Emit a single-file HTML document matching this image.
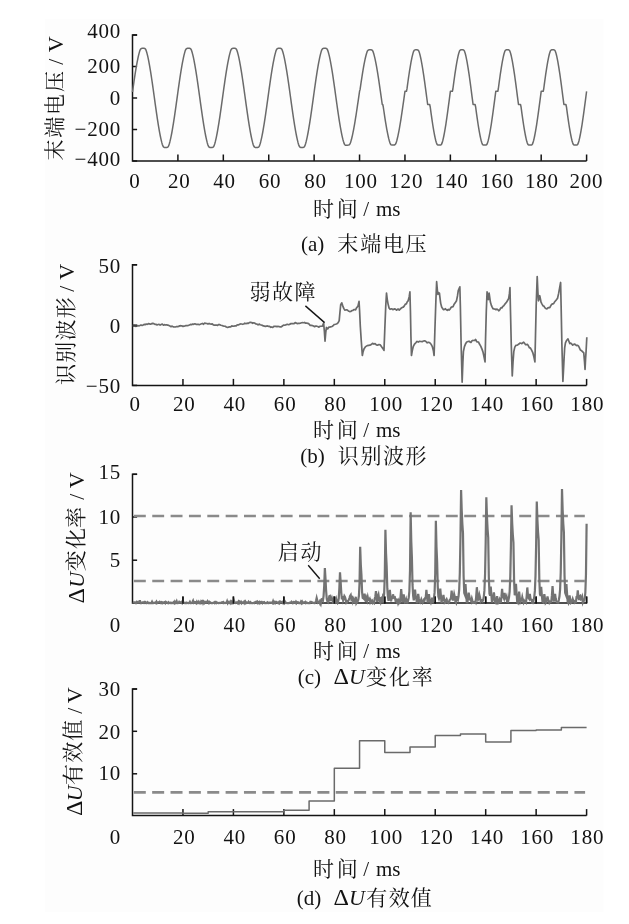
<!DOCTYPE html>
<html lang="zh">
<head>
<meta charset="utf-8">
<title>figure</title>
<style>
html,body{margin:0;padding:0;background:#fff;}
body{width:629px;height:924px;overflow:hidden;position:relative;}
svg{position:absolute;left:0;top:0;display:block;will-change:transform;transform:translateZ(0);}
svg text{font-family:"Liberation Serif", "Noto Serif CJK SC", serif;fill:#121212;}
</style>
</head>
<body>
<svg width="629" height="924" viewBox="0 0 629 924">
<rect x="45" y="19" width="558.5" height="893" fill="#fdfdfd"/>
<path d="M137.1 35 H132.5 V161 H586.6" fill="none" stroke="#141414" stroke-width="1.5" stroke-linejoin="miter"/>
<line x1="132.5" y1="35" x2="137.1" y2="35" stroke="#141414" stroke-width="1.5" />
<line x1="132.5" y1="66.5" x2="137.1" y2="66.5" stroke="#141414" stroke-width="1.5" />
<line x1="132.5" y1="98" x2="137.1" y2="98" stroke="#141414" stroke-width="1.5" />
<line x1="132.5" y1="129.5" x2="137.1" y2="129.5" stroke="#141414" stroke-width="1.5" />
<line x1="132.5" y1="161" x2="137.1" y2="161" stroke="#141414" stroke-width="1.5" />
<line x1="177.91" y1="161" x2="177.91" y2="154.5" stroke="#141414" stroke-width="1.5" />
<line x1="223.32" y1="161" x2="223.32" y2="154.5" stroke="#141414" stroke-width="1.5" />
<line x1="268.73" y1="161" x2="268.73" y2="154.5" stroke="#141414" stroke-width="1.5" />
<line x1="314.14" y1="161" x2="314.14" y2="154.5" stroke="#141414" stroke-width="1.5" />
<line x1="359.55" y1="161" x2="359.55" y2="154.5" stroke="#141414" stroke-width="1.5" />
<line x1="404.96" y1="161" x2="404.96" y2="154.5" stroke="#141414" stroke-width="1.5" />
<line x1="450.37" y1="161" x2="450.37" y2="154.5" stroke="#141414" stroke-width="1.5" />
<line x1="495.78" y1="161" x2="495.78" y2="154.5" stroke="#141414" stroke-width="1.5" />
<line x1="541.19" y1="161" x2="541.19" y2="154.5" stroke="#141414" stroke-width="1.5" />
<line x1="586.6" y1="161" x2="586.6" y2="154.5" stroke="#141414" stroke-width="1.5" />
<path d="M132.5 92.01 L133 88.4 L133.51 84.85 L134.01 81.35 L134.52 77.94 L135.02 74.62 L135.53 71.42 L136.03 68.34 L136.54 65.41 L137.04 62.64 L137.55 60.04 L138.05 57.62 L138.55 55.41 L139.06 53.39 L139.56 51.6 L140.07 50.1 L140.57 49.16 L141.08 48.65 L141.58 48.41 L142.09 48.32 L142.59 48.3 L143.1 48.3 L143.6 48.3 L144.1 48.33 L144.61 48.45 L145.11 48.74 L145.62 49.34 L146.12 50.41 L146.63 52.01 L147.13 53.86 L147.64 55.92 L148.14 58.19 L148.65 60.65 L149.15 63.29 L149.65 66.1 L150.16 69.07 L150.66 72.17 L151.17 75.41 L151.67 78.75 L152.18 82.18 L152.68 85.69 L153.19 89.26 L153.69 92.88 L154.2 96.52 L154.7 100.16 L155.21 103.79 L155.71 107.4 L156.21 110.95 L156.72 114.45 L157.22 117.86 L157.73 121.18 L158.23 124.38 L158.74 127.46 L159.24 130.39 L159.75 133.16 L160.25 135.76 L160.76 138.18 L161.26 140.39 L161.76 142.41 L162.27 144.2 L162.77 145.7 L163.28 146.64 L163.78 147.15 L164.29 147.39 L164.79 147.48 L165.3 147.5 L165.8 147.5 L166.31 147.5 L166.81 147.47 L167.31 147.35 L167.82 147.06 L168.32 146.46 L168.83 145.39 L169.33 143.79 L169.84 141.94 L170.34 139.88 L170.85 137.61 L171.35 135.15 L171.86 132.51 L172.36 129.7 L172.86 126.73 L173.37 123.63 L173.87 120.39 L174.38 117.05 L174.88 113.62 L175.39 110.11 L175.89 106.54 L176.4 102.92 L176.9 99.28 L177.41 95.64 L177.91 92.01 L178.41 88.4 L178.92 84.85 L179.42 81.35 L179.93 77.94 L180.43 74.62 L180.94 71.42 L181.44 68.34 L181.95 65.41 L182.45 62.64 L182.96 60.04 L183.46 57.62 L183.96 55.41 L184.47 53.39 L184.97 51.6 L185.48 50.1 L185.98 49.16 L186.49 48.65 L186.99 48.41 L187.5 48.32 L188 48.3 L188.51 48.3 L189.01 48.3 L189.51 48.33 L190.02 48.45 L190.52 48.74 L191.03 49.34 L191.53 50.41 L192.04 52.01 L192.54 53.86 L193.05 55.92 L193.55 58.19 L194.06 60.65 L194.56 63.29 L195.06 66.1 L195.57 69.07 L196.07 72.17 L196.58 75.41 L197.08 78.75 L197.59 82.18 L198.09 85.69 L198.6 89.26 L199.1 92.88 L199.61 96.52 L200.11 100.16 L200.62 103.79 L201.12 107.4 L201.62 110.95 L202.13 114.45 L202.63 117.86 L203.14 121.18 L203.64 124.38 L204.15 127.46 L204.65 130.39 L205.16 133.16 L205.66 135.76 L206.17 138.18 L206.67 140.39 L207.17 142.41 L207.68 144.2 L208.18 145.7 L208.69 146.64 L209.19 147.15 L209.7 147.39 L210.2 147.48 L210.71 147.5 L211.21 147.5 L211.72 147.5 L212.22 147.47 L212.72 147.35 L213.23 147.06 L213.73 146.46 L214.24 145.39 L214.74 143.79 L215.25 141.94 L215.75 139.88 L216.26 137.61 L216.76 135.15 L217.27 132.51 L217.77 129.7 L218.27 126.73 L218.78 123.63 L219.28 120.39 L219.79 117.05 L220.29 113.62 L220.8 110.11 L221.3 106.54 L221.81 102.92 L222.31 99.28 L222.82 95.64 L223.32 92.01 L223.82 88.4 L224.33 84.85 L224.83 81.35 L225.34 77.94 L225.84 74.62 L226.35 71.42 L226.85 68.34 L227.36 65.41 L227.86 62.64 L228.37 60.04 L228.87 57.62 L229.37 55.41 L229.88 53.39 L230.38 51.6 L230.89 50.1 L231.39 49.16 L231.9 48.65 L232.4 48.41 L232.91 48.32 L233.41 48.3 L233.92 48.3 L234.42 48.3 L234.92 48.33 L235.43 48.45 L235.93 48.74 L236.44 49.34 L236.94 50.41 L237.45 52.01 L237.95 53.86 L238.46 55.92 L238.96 58.19 L239.47 60.65 L239.97 63.29 L240.47 66.1 L240.98 69.07 L241.48 72.17 L241.99 75.41 L242.49 78.75 L243 82.18 L243.5 85.69 L244.01 89.26 L244.51 92.88 L245.02 96.52 L245.52 100.16 L246.03 103.79 L246.53 107.4 L247.03 110.95 L247.54 114.45 L248.04 117.86 L248.55 121.18 L249.05 124.38 L249.56 127.46 L250.06 130.39 L250.57 133.16 L251.07 135.76 L251.58 138.18 L252.08 140.39 L252.58 142.41 L253.09 144.2 L253.59 145.7 L254.1 146.64 L254.6 147.15 L255.11 147.39 L255.61 147.48 L256.12 147.5 L256.62 147.5 L257.13 147.5 L257.63 147.47 L258.13 147.35 L258.64 147.06 L259.14 146.46 L259.65 145.39 L260.15 143.79 L260.66 141.94 L261.16 139.88 L261.67 137.61 L262.17 135.15 L262.68 132.51 L263.18 129.7 L263.68 126.73 L264.19 123.63 L264.69 120.39 L265.2 117.05 L265.7 113.62 L266.21 110.11 L266.71 106.54 L267.22 102.92 L267.72 99.28 L268.23 95.64 L268.73 92.01 L269.23 88.4 L269.74 84.85 L270.24 81.35 L270.75 77.94 L271.25 74.62 L271.76 71.42 L272.26 68.34 L272.77 65.41 L273.27 62.64 L273.78 60.04 L274.28 57.62 L274.78 55.41 L275.29 53.39 L275.79 51.6 L276.3 50.1 L276.8 49.16 L277.31 48.65 L277.81 48.41 L278.32 48.32 L278.82 48.3 L279.33 48.3 L279.83 48.3 L280.33 48.33 L280.84 48.45 L281.34 48.74 L281.85 49.34 L282.35 50.41 L282.86 52.01 L283.36 53.86 L283.87 55.92 L284.37 58.19 L284.88 60.65 L285.38 63.29 L285.88 66.1 L286.39 69.07 L286.89 72.17 L287.4 75.41 L287.9 78.75 L288.41 82.18 L288.91 85.69 L289.42 89.26 L289.92 92.88 L290.43 96.52 L290.93 100.16 L291.44 103.79 L291.94 107.4 L292.44 110.95 L292.95 114.45 L293.45 117.86 L293.96 121.18 L294.46 124.38 L294.97 127.46 L295.47 130.39 L295.98 133.16 L296.48 135.76 L296.99 138.18 L297.49 140.39 L297.99 142.41 L298.5 144.2 L299 145.7 L299.51 146.64 L300.01 147.15 L300.52 147.39 L301.02 147.48 L301.53 147.5 L302.03 147.5 L302.54 147.5 L303.04 147.47 L303.54 147.35 L304.05 147.06 L304.55 146.46 L305.06 145.39 L305.56 143.79 L306.07 141.94 L306.57 139.88 L307.08 137.61 L307.58 135.15 L308.09 132.51 L308.59 129.7 L309.09 126.73 L309.6 123.63 L310.1 120.39 L310.61 117.05 L311.11 113.62 L311.62 110.11 L312.12 106.54 L312.63 102.92 L313.13 99.28 L313.64 95.64 L314.14 92.01 L314.64 88.4 L315.15 84.85 L315.65 81.35 L316.16 77.94 L316.66 74.62 L317.17 71.42 L317.67 68.34 L318.18 65.41 L318.68 62.64 L319.19 60.04 L319.69 57.62 L320.19 55.41 L320.7 53.39 L321.2 51.6 L321.71 50.1 L322.21 49.16 L322.72 48.65 L323.22 48.41 L323.73 48.32 L324.23 48.3 L324.74 48.3 L325.24 48.3 L325.74 48.33 L326.25 48.45 L326.75 48.74 L327.26 49.34 L327.76 50.41 L328.27 52.01 L328.77 53.86 L329.28 55.92 L329.78 58.19 L330.29 60.65 L330.79 63.29 L331.29 66.1 L331.8 69.07 L332.3 72.17 L332.81 75.46 L333.31 78.84 L333.82 82.32 L334.32 85.87 L334.83 89.47 L335.33 93.1 L335.84 96.75 L336.34 100.39 L336.85 104 L337.35 107.57 L337.85 111.07 L338.36 114.51 L338.86 117.84 L339.37 121.07 L339.87 124.18 L340.38 127.14 L340.88 129.95 L341.39 132.59 L341.89 135.06 L342.4 137.33 L342.9 139.39 L343.4 141.25 L343.91 142.89 L344.41 144.16 L344.92 144.9 L345.42 145.26 L345.93 145.37 L346.43 145.36 L346.94 145.29 L347.44 145.21 L347.95 145.13 L348.45 145.05 L348.95 144.91 L349.46 144.56 L349.96 143.89 L350.47 142.72 L350.97 141.12 L351.48 139.31 L351.98 137.29 L352.49 135.09 L352.99 132.7 L353.5 130.14 L354 127.43 L354.5 124.57 L355.01 121.59 L355.51 118.48 L356.02 115.28 L356.52 112 L357.03 108.64 L357.53 105.23 L358.04 101.79 L358.54 98.33 L359.05 94.8 L359.55 91.28 L360.05 89.65 L360.56 86.14 L361.06 82.69 L361.57 79.32 L362.07 76.04 L362.58 72.86 L363.08 69.82 L363.59 66.91 L364.09 64.16 L364.6 61.58 L365.1 59.18 L365.6 56.97 L366.11 54.96 L366.61 53.18 L367.12 51.66 L367.62 50.69 L368.13 50.16 L368.63 49.91 L369.14 49.82 L369.64 49.8 L370.15 49.8 L370.65 49.8 L371.15 49.83 L371.66 49.94 L372.16 50.24 L372.67 50.84 L373.17 51.92 L373.68 53.51 L374.18 55.34 L374.69 57.38 L375.19 59.63 L375.7 62.07 L376.2 64.68 L376.7 67.47 L377.21 70.4 L377.71 73.47 L378.22 76.67 L378.72 79.97 L379.23 83.36 L379.73 86.82 L380.24 90.34 L380.74 93.9 L381.25 97.47 L381.75 100.99 L382.25 104.48 L382.76 104.48 L383.26 106.77 L383.77 110.26 L384.27 113.69 L384.78 117.03 L385.28 120.28 L385.79 123.41 L386.29 126.41 L386.8 129.26 L387.3 131.94 L387.81 134.46 L388.31 136.78 L388.81 138.9 L389.32 140.81 L389.82 142.5 L390.33 143.78 L390.83 144.52 L391.34 144.89 L391.84 145.05 L392.35 145.09 L392.85 145.1 L393.36 145.1 L393.86 145.09 L394.36 145.02 L394.87 144.81 L395.37 144.33 L395.88 143.44 L396.38 141.99 L396.89 140.23 L397.39 138.25 L397.9 136.07 L398.4 133.68 L398.91 131.11 L399.41 128.37 L399.91 125.47 L400.42 122.43 L400.92 119.26 L401.43 115.98 L401.93 112.61 L402.44 109.16 L402.94 105.66 L403.45 102.11 L403.95 98.55 L404.46 94.91 L404.96 91.28 L405.46 91.28 L405.97 91.28 L406.47 91.28 L406.98 88.92 L407.48 85.19 L407.99 81.52 L408.49 77.95 L409 74.5 L409.5 71.18 L410.01 68.01 L410.51 65.01 L411.01 62.2 L411.52 59.59 L412.02 57.2 L412.53 55.05 L413.03 53.13 L413.54 51.55 L414.04 50.58 L414.55 50.08 L415.05 49.87 L415.56 49.81 L416.06 49.8 L416.56 49.8 L417.07 49.81 L417.57 49.89 L418.08 50.13 L418.58 50.67 L419.09 51.71 L419.59 53.35 L420.1 55.3 L420.6 57.48 L421.11 59.9 L421.61 62.53 L422.11 65.37 L422.62 68.39 L423.12 71.57 L423.63 74.91 L424.13 78.38 L424.64 81.96 L425.14 85.64 L425.65 89.38 L426.15 93.17 L426.66 96.99 L427.16 100.75 L427.67 104.48 L428.17 104.48 L428.67 104.48 L429.18 104.48 L429.68 104.48 L430.19 106.72 L430.69 110.47 L431.2 114.15 L431.7 117.72 L432.21 121.19 L432.71 124.51 L433.22 127.67 L433.72 130.65 L434.22 133.44 L434.73 136.02 L435.23 138.37 L435.74 140.47 L436.24 142.32 L436.75 143.74 L437.25 144.54 L437.76 144.92 L438.26 145.06 L438.77 145.1 L439.27 145.1 L439.77 145.1 L440.28 145.06 L440.78 144.92 L441.29 144.54 L441.79 143.74 L442.3 142.33 L442.8 140.47 L443.31 138.37 L443.81 136.02 L444.32 133.44 L444.82 130.66 L445.32 127.67 L445.83 124.51 L446.33 121.19 L446.84 117.73 L447.34 114.15 L447.85 110.47 L448.35 106.72 L448.86 102.92 L449.36 99.08 L449.87 95.19 L450.37 91.28 L450.87 91.28 L451.38 91.28 L451.88 91.28 L452.39 91.28 L452.89 89 L453.4 85.16 L453.9 81.41 L454.41 77.76 L454.91 74.22 L455.42 70.83 L455.92 67.6 L456.42 64.55 L456.93 61.7 L457.43 59.07 L457.94 56.68 L458.44 54.52 L458.95 52.63 L459.45 51.19 L459.96 50.37 L460.46 49.98 L460.97 49.84 L461.47 49.8 L461.97 49.8 L462.48 49.8 L462.98 49.84 L463.49 49.98 L463.99 50.37 L464.5 51.19 L465 52.63 L465.51 54.52 L466.01 56.67 L466.52 59.07 L467.02 61.7 L467.52 64.55 L468.03 67.6 L468.53 70.83 L469.04 74.22 L469.54 77.75 L470.05 81.41 L470.55 85.16 L471.06 88.99 L471.56 92.88 L472.07 96.79 L472.57 100.66 L473.08 104.48 L473.58 104.48 L474.08 104.48 L474.59 104.48 L475.09 104.48 L475.6 106.72 L476.1 110.47 L476.61 114.15 L477.11 117.72 L477.62 121.19 L478.12 124.51 L478.63 127.67 L479.13 130.65 L479.63 133.44 L480.14 136.02 L480.64 138.37 L481.15 140.47 L481.65 142.32 L482.16 143.74 L482.66 144.54 L483.17 144.92 L483.67 145.06 L484.18 145.1 L484.68 145.1 L485.18 145.1 L485.69 145.06 L486.19 144.92 L486.7 144.54 L487.2 143.74 L487.71 142.33 L488.21 140.47 L488.72 138.37 L489.22 136.02 L489.73 133.44 L490.23 130.66 L490.73 127.67 L491.24 124.51 L491.74 121.19 L492.25 117.73 L492.75 114.15 L493.26 110.47 L493.76 106.72 L494.27 102.92 L494.77 99.08 L495.28 95.19 L495.78 91.28 L496.28 91.28 L496.79 91.28 L497.29 91.28 L497.8 91.28 L498.3 89 L498.81 85.16 L499.31 81.41 L499.82 77.76 L500.32 74.22 L500.83 70.83 L501.33 67.6 L501.83 64.55 L502.34 61.7 L502.84 59.07 L503.35 56.68 L503.85 54.52 L504.36 52.63 L504.86 51.19 L505.37 50.37 L505.87 49.98 L506.38 49.84 L506.88 49.8 L507.38 49.8 L507.89 49.8 L508.39 49.84 L508.9 49.98 L509.4 50.37 L509.91 51.19 L510.41 52.63 L510.92 54.52 L511.42 56.67 L511.93 59.07 L512.43 61.7 L512.93 64.55 L513.44 67.6 L513.94 70.83 L514.45 74.22 L514.95 77.75 L515.46 81.41 L515.96 85.16 L516.47 88.99 L516.97 92.88 L517.48 96.79 L517.98 100.66 L518.49 104.48 L518.99 104.48 L519.49 104.48 L520 104.48 L520.5 104.48 L521.01 106.72 L521.51 110.47 L522.02 114.15 L522.52 117.72 L523.03 121.19 L523.53 124.51 L524.04 127.67 L524.54 130.65 L525.04 133.44 L525.55 136.02 L526.05 138.37 L526.56 140.47 L527.06 142.32 L527.57 143.74 L528.07 144.54 L528.58 144.92 L529.08 145.06 L529.59 145.1 L530.09 145.1 L530.59 145.1 L531.1 145.06 L531.6 144.92 L532.11 144.54 L532.61 143.74 L533.12 142.33 L533.62 140.47 L534.13 138.37 L534.63 136.02 L535.14 133.44 L535.64 130.66 L536.14 127.67 L536.65 124.51 L537.15 121.19 L537.66 117.73 L538.16 114.15 L538.67 110.47 L539.17 106.72 L539.68 102.92 L540.18 99.08 L540.69 95.19 L541.19 91.28 L541.69 91.28 L542.2 91.28 L542.7 91.28 L543.21 91.28 L543.71 89 L544.22 85.16 L544.72 81.41 L545.23 77.76 L545.73 74.22 L546.24 70.83 L546.74 67.6 L547.24 64.55 L547.75 61.7 L548.25 59.07 L548.76 56.68 L549.26 54.52 L549.77 52.63 L550.27 51.19 L550.78 50.37 L551.28 49.98 L551.79 49.84 L552.29 49.8 L552.79 49.8 L553.3 49.8 L553.8 49.84 L554.31 49.98 L554.81 50.37 L555.32 51.19 L555.82 52.63 L556.33 54.52 L556.83 56.67 L557.34 59.07 L557.84 61.7 L558.34 64.55 L558.85 67.6 L559.35 70.83 L559.86 74.22 L560.36 77.75 L560.87 81.41 L561.37 85.16 L561.88 88.99 L562.38 92.88 L562.89 96.79 L563.39 100.66 L563.89 104.48 L564.4 104.48 L564.9 104.48 L565.41 104.48 L565.91 104.48 L566.42 106.72 L566.92 110.47 L567.43 114.15 L567.93 117.72 L568.44 121.19 L568.94 124.51 L569.45 127.67 L569.95 130.65 L570.45 133.44 L570.96 136.02 L571.46 138.37 L571.97 140.47 L572.47 142.32 L572.98 143.74 L573.48 144.54 L573.99 144.92 L574.49 145.06 L575 145.1 L575.5 145.1 L576 145.1 L576.51 145.06 L577.01 144.92 L577.52 144.54 L578.02 143.74 L578.53 142.33 L579.03 140.47 L579.54 138.37 L580.04 136.02 L580.55 133.44 L581.05 130.66 L581.55 127.67 L582.06 124.51 L582.56 121.19 L583.07 117.73 L583.57 114.15 L584.08 110.47 L584.58 106.72 L585.09 102.92 L585.59 99.08 L586.1 95.19 L586.6 91.28" fill="none" stroke="#6a6a6a" stroke-width="1.5" stroke-linejoin="round" stroke-linecap="butt" />
<path d="M137.1 264.8 H132.5 V385.4 H586.6" fill="none" stroke="#141414" stroke-width="1.5" stroke-linejoin="miter"/>
<line x1="132.5" y1="264.8" x2="137.1" y2="264.8" stroke="#141414" stroke-width="1.5" />
<line x1="132.5" y1="325.4" x2="137.1" y2="325.4" stroke="#141414" stroke-width="1.5" />
<line x1="132.5" y1="385.4" x2="137.1" y2="385.4" stroke="#141414" stroke-width="1.5" />
<line x1="182.96" y1="385.4" x2="182.96" y2="378.9" stroke="#141414" stroke-width="1.5" />
<line x1="233.41" y1="385.4" x2="233.41" y2="378.9" stroke="#141414" stroke-width="1.5" />
<line x1="283.87" y1="385.4" x2="283.87" y2="378.9" stroke="#141414" stroke-width="1.5" />
<line x1="334.32" y1="385.4" x2="334.32" y2="378.9" stroke="#141414" stroke-width="1.5" />
<line x1="384.78" y1="385.4" x2="384.78" y2="378.9" stroke="#141414" stroke-width="1.5" />
<line x1="435.23" y1="385.4" x2="435.23" y2="378.9" stroke="#141414" stroke-width="1.5" />
<line x1="485.69" y1="385.4" x2="485.69" y2="378.9" stroke="#141414" stroke-width="1.5" />
<line x1="536.14" y1="385.4" x2="536.14" y2="378.9" stroke="#141414" stroke-width="1.5" />
<line x1="586.6" y1="385.4" x2="586.6" y2="378.9" stroke="#141414" stroke-width="1.5" />
<path d="M132.9 325.73 L133.86 325.64 L134.82 325.54 L135.78 326.32 L136.74 326.26 L137.79 325.53 L138.84 325.96 L139.89 325.56 L140.94 324.98 L141.99 325.38 L143.03 325.18 L144.08 324.36 L145.13 324.67 L146.18 323.99 L147.23 324.34 L148.32 323.63 L149.42 323.89 L150.51 324.24 L151.6 323.64 L152.69 323.32 L153.79 323.63 L154.88 324.33 L155.97 324.34 L157.02 324.95 L158.07 324.51 L159.12 324.31 L160.17 325.09 L161.22 324.51 L162.31 324.05 L163.4 325.24 L164.49 324.63 L165.59 325.03 L166.68 324.83 L167.77 325.06 L168.87 325.57 L169.96 326.08 L171.05 326.71 L172.14 326.11 L173.24 326.85 L174.33 326.96 L175.42 327.01 L176.51 326.53 L177.61 326.63 L178.7 326.43 L179.75 325.8 L180.8 325.72 L181.85 325.84 L182.9 326.39 L183.94 326.08 L185.04 325.81 L186.13 325.49 L187.22 325.67 L188.31 325.38 L189.41 324.97 L190.5 324.43 L191.59 324.72 L192.69 323.99 L193.78 324.33 L194.87 323.83 L195.96 324.35 L197.06 324.34 L198.15 324.24 L199.24 324.56 L200.33 324.24 L201.43 323.81 L202.52 323.45 L203.61 324.26 L204.7 323.05 L205.8 323.46 L206.89 323.49 L207.98 324.06 L209.08 323.4 L210.17 323.99 L211.22 324.18 L212.27 323.81 L213.31 324.83 L214.36 325.17 L215.41 325.03 L216.51 325.04 L217.6 325.35 L218.69 324.53 L219.78 324.69 L220.88 325.29 L221.97 325.51 L223.06 325.84 L224.15 326.08 L225.25 326.29 L226.34 327.05 L227.43 327.45 L228.52 327.13 L229.62 326.88 L230.71 326.91 L231.8 325.91 L232.9 326.26 L233.99 326.17 L235.08 325.75 L236.17 325.85 L237.27 324.86 L238.32 325.02 L239.37 324.34 L240.46 323.97 L241.56 324.01 L242.65 324.29 L243.74 323.99 L244.83 323.23 L245.93 323.67 L247.02 323.16 L248.11 323.46 L249.28 322.67 L250.44 322.31 L251.61 322.59 L252.7 323.29 L253.79 322.8 L254.89 323.31 L255.98 323.99 L257.03 324.05 L258.08 324.89 L259.13 324.07 L260.17 324.76 L261.22 325.03 L262.27 325.31 L263.32 325.95 L264.37 326.08 L265.42 326.35 L266.47 326.08 L267.52 325.97 L268.57 326.32 L269.62 326.42 L270.66 327.28 L271.71 326.96 L272.76 327.48 L273.81 326.36 L274.86 326.33 L275.91 326.33 L276.96 326.61 L278.05 326.31 L279.14 326.68 L280.24 326.86 L281.33 326.78 L282.42 325.99 L283.51 325.18 L284.61 325.24 L285.7 324.86 L286.75 324.45 L287.8 324.46 L288.85 324.71 L289.9 324.13 L290.94 323.64 L291.99 323.55 L293.04 323.58 L294.09 323.55 L295.14 322.64 L296.19 323.11 L297.24 323.56 L298.29 323.34 L299.34 323.39 L300.38 323.22 L301.43 322.76 L302.48 322.69 L303.53 322.77 L304.58 322.46 L305.63 323.22 L306.68 323.11 L307.84 323.3 L309.01 324.06 L310.17 325.38 L311.27 325.31 L312.36 325.56 L313.45 326.09 L314.55 326.61 L315.64 326.16 L316.73 326.22 L317.82 326.55 L318.92 327.13 L320.08 326.27 L321.25 326.26 L322.41 326.08 L323.64 323.11 L324.34 330.98 L325.03 341.12 L325.73 332.73 L326.43 327.48 L327.66 328.88 L328.97 327.1 L330.28 327.13 L330.53 326.76 L331.81 326.61 L333.08 325.74 L334.35 324.46 L335.62 324.21 L336.9 323.79 L338.17 322.68 L339.19 320.65 L339.95 312.25 L340.71 304.62 L341.73 302.84 L342.75 305.89 L343.77 308.44 L344.78 310.19 L345.8 309.96 L347.07 309.86 L348.35 310.98 L349.62 311.56 L350.89 311.49 L351.91 310.53 L352.93 310.47 L353.82 309.72 L354.71 309.71 L355.6 309.78 L356.49 307.93 L358.02 305.89 L359.03 301.31 L359.54 309.71 L360.31 326.25 L361.32 341.51 L362.34 355.51 L363.1 351.69 L364.12 348.64 L365.65 346.6 L367.18 345.61 L368.7 345.33 L369.97 345.22 L371.25 344.57 L372.52 343.33 L373.79 344.06 L375.06 343.67 L376.34 344.82 L377.61 345.22 L378.88 344.57 L380.15 344.76 L381.42 346.6 L382.95 348.64 L383.97 350.42 L384.73 331.34 L385.75 305.89 L386.51 293.17 L387.28 299.53 L388.04 303.85 L389.06 307.93 L390.08 309.27 L391.09 308.94 L391.98 308.91 L392.88 309.71 L394.15 308.89 L395.42 309.19 L396.69 310.22 L397.96 308.99 L399.24 310.01 L400.51 308.94 L401.4 307.91 L402.29 307.42 L403.31 307.11 L404.33 305.89 L405.34 304.1 L406.36 303.85 L407.25 301.74 L408.14 300.8 L409.16 296.98 L409.92 291.9 L410.43 310.98 L410.94 336.42 L411.45 355.51 L412.21 351.18 L413.23 346.6 L414.5 344.06 L415.78 342.79 L417.05 341.41 L418.32 342.02 L419.59 341.24 L420.87 341.51 L422.14 341.68 L423.41 341.01 L424.68 340.86 L425.95 341.51 L427.23 342.82 L428.5 342.28 L429.77 342.79 L431.3 344.57 L432.32 346.6 L433.33 350.42 L434.1 355.51 L434.86 331.34 L435.88 300.8 L436.64 281.72 L437.4 290.62 L437.91 294.44 L438.68 292.66 L439.44 293.17 L440.2 299.53 L440.71 303.35 L441.73 307.16 L442.49 308.44 L443.51 309.55 L444.53 309.45 L445.42 308.73 L446.31 309.71 L447.33 310.33 L448.35 309.45 L449.24 310.04 L450.13 308.94 L451.15 307.32 L452.16 306.91 L453.05 306.61 L453.94 304.62 L455.22 302.84 L456.49 300.8 L457.51 295.71 L458.27 290.62 L459.85 286.81 L460.36 305.89 L461.12 344.06 L462.14 382.23 L462.9 361.87 L463.41 351.69 L464.43 346.6 L465.45 344.06 L466.72 341.94 L467.99 341.51 L469.01 341.22 L470.03 342.02 L470.92 342.47 L471.81 341.01 L472.82 340.37 L473.84 340.5 L474.73 340.35 L475.62 339.48 L476.64 341.61 L477.66 342.02 L478.55 342.17 L479.44 344.06 L480.71 346.09 L481.98 349.15 L482.88 351.59 L483.77 355.51 L485.04 361.87 L485.55 338.97 L486.31 310.98 L487.07 291.9 L487.84 296.98 L488.35 299.53 L489.11 293.17 L489.87 298.26 L490.38 302.07 L491.4 305.38 L492.16 307.16 L493.05 308.71 L493.94 308.94 L494.96 309.07 L495.98 309.71 L497 309.1 L498.02 309.96 L498.91 310.78 L499.8 309.71 L500.81 307.91 L501.83 307.93 L502.72 306.5 L503.61 305.89 L505.14 303.85 L506.67 302.07 L507.68 300.29 L508.7 298.26 L509.47 293.17 L509.97 287.57 L510.48 310.98 L511.25 344.06 L512.26 375.87 L513.03 361.87 L513.79 351.69 L514.81 347.11 L515.83 345.33 L517.35 345.16 L518.88 344.06 L519.9 342.99 L520.92 343.3 L521.81 343.6 L522.7 342.79 L523.72 342.24 L524.73 343.55 L525.62 344.65 L526.51 344.57 L527.53 344.4 L528.55 346.09 L529.44 347.92 L530.33 347.88 L531.6 350.17 L532.88 352.96 L533.89 356.78 L534.91 361.87 L535.42 338.97 L536.18 305.89 L537.2 276.63 L537.96 293.17 L538.47 300.8 L539.24 297.75 L539.75 295.71 L540.51 299.53 L541.02 302.07 L542.04 304.11 L543.05 305.89 L543.94 306.13 L544.83 307.67 L545.85 308.57 L546.87 308.94 L547.89 307.92 L548.91 307.67 L549.8 307.63 L550.69 305.89 L551.7 304.27 L552.72 303.85 L553.61 303.63 L554.5 302.07 L556.03 300.29 L557.56 298.26 L558.58 293.68 L559.59 288.08 L560.61 282.48 L561.12 305.89 L561.88 344.06 L562.9 381.46 L563.66 366.96 L564.17 356.78 L564.68 347.88 L565.45 342.79 L566.72 340.24 L567.99 338.97 L569.01 341.51 L569.77 343.55 L570.79 343.17 L571.81 344.06 L572.7 345.15 L573.59 344.57 L574.61 344.02 L575.62 344.82 L576.51 345.53 L577.4 345.33 L578.42 345.97 L579.44 347.88 L580.33 349.97 L581.22 350.42 L582.49 351.69 L583.77 352.96 L584.53 361.87 L585.04 369.5 L585.55 359.33 L586.06 351.69 L586.82 337.19" fill="none" stroke="#6a6a6a" stroke-width="1.7" stroke-linejoin="round" stroke-linecap="butt" />
<line x1="132.5" y1="325.6" x2="137.1" y2="325.6" stroke="#444" stroke-width="2.2" />
<line x1="305.4" y1="305.9" x2="324.6" y2="322.6" stroke="#141414" stroke-width="1.4" />
<path d="M137.1 474.3 H132.5 V603 H586.6" fill="none" stroke="#141414" stroke-width="1.5" stroke-linejoin="miter"/>
<line x1="132.5" y1="474.3" x2="137.1" y2="474.3" stroke="#141414" stroke-width="1.5" />
<line x1="132.5" y1="517" x2="137.1" y2="517" stroke="#141414" stroke-width="1.5" />
<line x1="132.5" y1="560.2" x2="137.1" y2="560.2" stroke="#141414" stroke-width="1.5" />
<line x1="182.96" y1="603" x2="182.96" y2="596.5" stroke="#141414" stroke-width="1.5" />
<line x1="233.41" y1="603" x2="233.41" y2="596.5" stroke="#141414" stroke-width="1.5" />
<line x1="283.87" y1="603" x2="283.87" y2="596.5" stroke="#141414" stroke-width="1.5" />
<line x1="334.32" y1="603" x2="334.32" y2="596.5" stroke="#141414" stroke-width="1.5" />
<line x1="384.78" y1="603" x2="384.78" y2="596.5" stroke="#141414" stroke-width="1.5" />
<line x1="435.23" y1="603" x2="435.23" y2="596.5" stroke="#141414" stroke-width="1.5" />
<line x1="485.69" y1="603" x2="485.69" y2="596.5" stroke="#141414" stroke-width="1.5" />
<line x1="536.14" y1="603" x2="536.14" y2="596.5" stroke="#141414" stroke-width="1.5" />
<line x1="586.6" y1="603" x2="586.6" y2="596.5" stroke="#141414" stroke-width="1.5" />
<line x1="133.9" y1="516" x2="584.8" y2="516" stroke="#8a8a8a" stroke-width="2.5" stroke-dasharray="11.9 6.45"/>
<line x1="133.9" y1="580.9" x2="584.8" y2="580.9" stroke="#8a8a8a" stroke-width="2.5" stroke-dasharray="11.9 6.45"/>
<path d="M133.3 603 L133.76 602.25 L134.39 602.25 L135.02 602.25 L135.65 603.1 L136.28 603.1 L136.91 601.82 L137.55 602.25 L138.18 602.59 L138.81 602.25 L139.44 601.22 L140.07 601.22 L140.7 603.1 L141.33 603.1 L141.96 602.59 L142.59 602.25 L143.22 602.25 L143.85 602.84 L144.48 601.82 L145.11 601.82 L145.74 602.25 L146.38 603.1 L147.01 602.84 L147.64 602.25 L148.27 603.1 L148.9 603.1 L149.53 602.84 L150.16 603.1 L150.79 603.1 L151.42 603.1 L152.05 601.82 L152.68 603.1 L153.31 603.1 L153.94 602.84 L154.57 602.84 L155.2 602.59 L155.84 603.1 L156.47 601.82 L157.1 603.1 L157.73 602.59 L158.36 602.25 L158.99 602.25 L159.62 601.82 L160.25 602.59 L160.88 603.1 L161.51 602.08 L162.14 602.25 L162.77 603.1 L163.4 602.59 L164.03 602.25 L164.67 602.08 L165.3 603.1 L165.93 601.82 L166.56 602.25 L167.19 602.84 L167.82 603.1 L168.45 602.25 L169.08 603.1 L169.71 602.84 L170.34 603.1 L170.97 602.59 L171.6 603.1 L172.23 603.1 L172.86 602.84 L173.5 602.25 L174.13 603.1 L174.76 601.82 L175.39 603.1 L176.02 602.59 L176.65 601.22 L177.28 603.1 L177.91 603.1 L178.54 602.84 L179.17 601.82 L179.8 602.59 L180.43 602.25 L181.06 602.25 L181.69 601.82 L182.32 603.1 L182.96 602.25 L183.59 602.25 L184.22 602.84 L184.85 603.1 L185.48 603.1 L186.11 602.59 L186.74 603.1 L187.37 602.84 L188 603.1 L188.63 603.1 L189.26 602.84 L189.89 601.82 L190.52 603.1 L191.15 603.1 L191.79 602.84 L192.42 602.08 L193.05 600.79 L193.68 603.1 L194.31 602.84 L194.94 602.08 L195.57 602.25 L196.2 603.1 L196.83 601.82 L197.46 603.1 L198.09 602.84 L198.72 601.82 L199.35 603.1 L199.98 602.59 L200.62 603.1 L201.25 601.22 L201.88 601.82 L202.51 601.22 L203.14 603.1 L203.77 601.82 L204.4 602.84 L205.03 601.82 L205.66 601.82 L206.29 602.59 L206.92 602.25 L207.55 601.22 L208.18 602.25 L208.81 603.1 L209.44 601.82 L210.08 602.25 L210.71 602.59 L211.34 603.1 L211.97 603.1 L212.6 603.1 L213.23 602.84 L213.86 602.59 L214.49 603.1 L215.12 601.82 L215.75 601.82 L216.38 603.1 L217.01 602.59 L217.64 602.84 L218.27 603.1 L218.91 603.1 L219.54 602.84 L220.17 603.1 L220.8 602.84 L221.43 602.59 L222.06 602.25 L222.69 602.84 L223.32 602.25 L223.95 603.1 L224.58 602.84 L225.21 603.1 L225.84 602.84 L226.47 602.84 L227.1 601.22 L227.73 603.1 L228.37 602.08 L229 602.84 L229.63 603.1 L230.26 601.82 L230.89 603.1 L231.52 601.82 L232.15 602.84 L232.78 601.82 L233.41 602.59 L234.04 600.79 L234.67 602.59 L235.3 603.1 L235.93 602.84 L236.56 602.25 L237.2 602.25 L237.83 603.1 L238.46 601.82 L239.09 603.1 L239.72 601.82 L240.35 602.59 L240.98 601.82 L241.61 603.1 L242.24 602.25 L242.87 602.25 L243.5 602.84 L244.13 601.82 L244.76 603.1 L245.39 601.82 L246.03 603.1 L246.66 602.59 L247.29 602.84 L247.92 602.84 L248.55 601.82 L249.18 602.84 L249.81 603.1 L250.44 602.25 L251.07 602.84 L251.7 603.1 L252.33 603.1 L252.96 603.1 L253.59 602.84 L254.22 603.1 L254.85 602.25 L255.49 602.25 L256.12 601.82 L256.75 602.59 L257.38 601.82 L258.01 603.1 L258.64 602.25 L259.27 601.82 L259.9 603.1 L260.53 602.25 L261.16 601.82 L261.79 602.25 L262.42 603.1 L263.05 602.25 L263.68 602.59 L264.32 602.25 L264.95 603.1 L265.58 603.1 L266.21 603.1 L266.84 602.59 L267.47 602.25 L268.1 603.1 L268.73 603.1 L269.36 602.59 L269.99 602.59 L270.62 602.59 L271.25 602.84 L271.88 602.59 L272.51 603.1 L273.14 601.22 L273.78 602.84 L274.41 602.08 L275.04 603.1 L275.67 601.82 L276.3 601.82 L276.93 602.25 L277.56 602.59 L278.19 603.1 L278.82 602.25 L279.45 603.1 L280.08 601.56 L280.71 601.82 L281.34 602.25 L281.97 602.25 L282.61 601.82 L283.24 603.1 L283.87 602.25 L284.5 603.1 L285.13 601.82 L285.76 602.84 L286.39 602.84 L287.02 603.1 L287.65 603.1 L288.28 603.1 L288.91 603.1 L289.54 602.84 L290.17 602.59 L290.8 602.59 L291.44 601.82 L292.07 602.59 L292.7 603.1 L293.33 602.25 L293.96 602.84 L294.59 602.25 L295.22 602.84 L295.85 601.82 L296.48 603.1 L297.11 602.08 L297.74 602.25 L298.37 602.25 L299 603.1 L299.63 603.1 L300.26 603.1 L300.9 601.82 L301.53 603.1 L302.16 601.82 L302.79 603.1 L303.42 602.59 L304.05 602.84 L304.68 602.25 L305.31 601.82 L305.94 603.1 L306.57 602.59 L307.2 602.84 L307.83 603.1 L308.46 603.1 L309.09 603.1 L309.73 603.1 L310.36 601.82 L310.99 601.82 L311.62 602.25 L312.25 602.25 L312.88 602.84 L313.51 602.84 L314.14 603.1 L314.77 603.1 L315.4 602.59 L316.03 600.79 L316.66 597.98 L317.29 600.54 L317.92 602.59 L318.55 602.08 L319.19 601.65 L319.82 603.09 L320.45 599.39 L321.08 602.29 L321.71 599.15 L322.34 599.21 L322.97 600.27 L323.6 595.84 L324.23 585.59 L324.86 568.09 L325.49 578.59 L326.12 590.85 L326.75 598.9 L327.38 601.35 L328.02 602.19 L328.65 600.14 L329.28 596.2 L329.91 595.89 L330.54 600.11 L331.17 599.75 L331.8 597.98 L332.43 600.54 L333.06 602.6 L333.69 602.58 L334.32 596.43 L334.95 600.32 L335.58 601.5 L336.21 599.25 L336.85 602 L337.48 602.92 L338.11 601.56 L338.74 598.49 L339.37 587.73 L340 572.36 L340.63 581.58 L341.26 592.34 L341.89 599.41 L342.52 596.13 L343.15 600.35 L343.78 598.64 L344.41 596.07 L345.04 597.12 L345.67 599.52 L346.31 603 L346.94 602.68 L347.57 600.96 L348.2 600.87 L348.83 599.88 L349.46 598.12 L350.09 595.87 L350.72 594.95 L351.35 599.02 L351.98 598.06 L352.61 601.03 L353.24 598.51 L353.87 599.8 L354.5 602.39 L355.14 602.2 L355.77 596.74 L356.4 603.09 L357.03 602.08 L357.66 601.41 L358.29 599.72 L358.92 595.77 L359.55 582.81 L360.18 546.74 L360.81 564.77 L361.44 574.92 L362.07 591.83 L362.7 597.82 L363.33 598.21 L363.96 598.86 L364.6 593.68 L365.23 598.39 L365.86 601.75 L366.49 598.42 L367.12 600.47 L367.75 597.26 L368.38 600.18 L369.01 600.02 L369.64 598.98 L370.27 601.99 L370.9 600.62 L371.53 601.86 L372.16 600.99 L372.79 603.02 L373.43 602.37 L374.06 602.99 L374.69 598.76 L375.32 596.71 L375.95 591.03 L376.58 597.07 L377.21 601.8 L377.84 596.54 L378.47 594.68 L379.1 598.89 L379.73 601.29 L380.36 602.48 L380.99 597.93 L381.62 597.55 L382.25 602.56 L382.89 597.1 L383.52 598.69 L384.15 593.55 L384.78 576.66 L385.41 529.66 L386.04 553.16 L386.67 566.38 L387.3 588.41 L387.93 597.22 L388.56 600.9 L389.19 597.13 L389.82 589.83 L390.45 596.47 L391.08 601.3 L391.72 596.18 L392.35 599.16 L392.98 594.34 L393.61 596.75 L394.24 597.65 L394.87 597.38 L395.5 600.5 L396.13 599.9 L396.76 601.67 L397.39 600.65 L398.02 602.96 L398.65 600.92 L399.28 602.98 L399.91 602.43 L400.55 596.82 L401.18 589.16 L401.81 596.13 L402.44 602.36 L403.07 599.16 L403.7 594.35 L404.33 598.72 L404.96 602.52 L405.59 602.27 L406.22 599.77 L406.85 602.52 L407.48 602.58 L408.11 600.37 L408.74 597.64 L409.37 591.28 L410.01 570.36 L410.64 512.15 L411.27 541.25 L411.9 557.62 L412.53 584.91 L413.16 595.82 L413.79 600.37 L414.42 596.98 L415.05 589.51 L415.68 596.3 L416.31 598.73 L416.94 603.03 L417.57 598.9 L418.2 593.78 L418.84 598.44 L419.47 602.1 L420.1 602.68 L420.73 601.45 L421.36 599.44 L421.99 601.27 L422.62 602.79 L423.25 601.96 L423.88 599.91 L424.51 600.39 L425.14 598.01 L425.77 597.19 L426.4 589.97 L427.03 596.54 L427.67 602.65 L428.3 599.08 L428.93 594.17 L429.56 598.64 L430.19 601.53 L430.82 602.85 L431.45 600.82 L432.08 597.61 L432.71 603.09 L433.34 598.76 L433.97 598.16 L434.6 592.39 L435.23 573.43 L435.86 520.69 L436.49 547.06 L437.13 561.89 L437.76 586.62 L438.39 596.51 L439.02 598.56 L439.65 596.43 L440.28 588.65 L440.91 595.88 L441.54 603.04 L442.17 599.05 L442.8 599.46 L443.43 595.02 L444.06 599.06 L444.69 603.03 L445.32 602.82 L445.96 600.08 L446.59 599.16 L447.22 600.81 L447.85 602.28 L448.48 602.96 L449.11 602.23 L449.74 599.78 L450.37 599.21 L451 597.51 L451.63 590.68 L452.26 596.89 L452.89 600.46 L453.52 597.66 L454.15 594.15 L454.78 596.87 L455.42 601.58 L456.05 602.71 L456.68 595.98 L457.31 598.71 L457.94 599.71 L458.57 596.31 L459.2 589.52 L459.83 572.55 L460.46 537.47 L461.09 489.95 L461.72 510.31 L462.35 523.89 L462.98 532.94 L463.61 575.94 L464.25 592.92 L464.88 594.55 L465.51 584.11 L466.14 593.6 L466.77 602.24 L467.4 602.28 L468.03 598.38 L468.66 592.61 L469.29 595.98 L469.92 599.22 L470.55 599.11 L471.18 601.06 L471.81 598.57 L472.44 600.84 L473.07 602.92 L473.71 602.88 L474.34 601.82 L474.97 601.64 L475.6 602.54 L476.23 595.95 L476.86 587.21 L477.49 595.15 L478.12 599.52 L478.75 598.31 L479.38 594.97 L480.01 597.53 L480.64 601.2 L481.27 600.01 L481.9 600.33 L482.54 601.04 L483.17 599.92 L483.8 596.75 L484.43 590.39 L485.06 574.51 L485.69 541.68 L486.32 497.2 L486.95 516.27 L487.58 528.97 L488.21 537.44 L488.84 577.68 L489.47 593.57 L490.1 595.69 L490.73 586.63 L491.37 594.87 L492 602.34 L492.63 600 L493.26 598.26 L493.89 592.34 L494.52 597.72 L495.15 602.23 L495.78 602.9 L496.41 599.95 L497.04 596.09 L497.67 599.59 L498.3 603.08 L498.93 602.52 L499.56 600.02 L500.19 601.99 L500.83 601.93 L501.46 596.69 L502.09 588.85 L502.72 595.98 L503.35 597.11 L503.98 598.54 L504.61 592.97 L505.24 598.04 L505.87 598.61 L506.5 596.9 L507.13 602.44 L507.76 598.89 L508.39 600.17 L509.02 597.23 L509.66 591.37 L510.29 576.7 L510.92 546.39 L511.55 505.32 L512.18 522.92 L512.81 534.65 L513.44 542.47 L514.07 579.63 L514.7 594.3 L515.33 594.42 L515.96 583.8 L516.59 593.45 L517.22 602.19 L517.85 602.91 L518.49 597.88 L519.12 591.51 L519.75 597.3 L520.38 602.03 L521.01 600.82 L521.64 600.47 L522.27 597.26 L522.9 600.18 L523.53 602.36 L524.16 600.73 L524.79 601.87 L525.42 601.17 L526.05 602.09 L526.68 596.06 L527.31 587.46 L527.95 595.28 L528.58 598.04 L529.21 598.92 L529.84 593.82 L530.47 598.46 L531.1 599.75 L531.73 599.95 L532.36 603.02 L532.99 603.08 L533.62 600.05 L534.25 597 L534.88 590.9 L535.51 575.66 L536.14 544.16 L536.78 501.47 L537.41 519.77 L538.04 531.96 L538.67 540.09 L539.3 578.71 L539.93 593.95 L540.56 595.83 L541.19 586.95 L541.82 595.03 L542.45 601.5 L543.08 602.06 L543.71 599.07 L544.34 594.15 L544.97 598.63 L545.6 603.04 L546.24 602.19 L546.87 600.15 L547.5 596.54 L548.13 599.82 L548.76 600.82 L549.39 602.72 L550.02 601.7 L550.65 602.03 L551.28 601.51 L551.91 595.44 L552.54 586.07 L553.17 594.58 L553.8 601.64 L554.43 597.27 L555.07 593.97 L555.7 598.53 L556.33 601.39 L556.96 602.37 L557.59 602.53 L558.22 602.62 L558.85 599.68 L559.48 596.26 L560.11 589.42 L560.74 572.32 L561.37 536.97 L562 489.09 L562.63 509.61 L563.26 523.29 L563.89 532.41 L564.53 575.74 L565.16 592.84 L565.79 594.5 L566.42 584 L567.05 593.55 L567.68 601.77 L568.31 602.93 L568.94 599.65 L569.57 595.42 L570.2 599.26 L570.83 603.09 L571.46 602.6 L572.09 601.27 L572.72 599.03 L573.36 601.06 L573.99 600.99 L574.62 602.91 L575.25 602.59 L575.88 602.22 L576.51 597.25 L577.14 597.38 L577.77 590.4 L578.4 596.75 L579.03 600.01 L579.66 596.11 L580.29 595.7 L580.92 599.4 L581.55 599.15 L582.19 597.23 L582.82 602.55 L583.45 601.07 L584.08 600.72 L584.71 598.33 L585.34 592.78 L585.97 574.51 L586.6 523.68" fill="none" stroke="#737373" stroke-width="2.2" stroke-linejoin="miter" stroke-miterlimit="5"/>
<line x1="182.96" y1="603.7" x2="182.96" y2="596.5" stroke="#141414" stroke-width="1.5" />
<line x1="233.41" y1="603.7" x2="233.41" y2="596.5" stroke="#141414" stroke-width="1.5" />
<line x1="283.87" y1="603.7" x2="283.87" y2="596.5" stroke="#141414" stroke-width="1.5" />
<line x1="334.32" y1="603.7" x2="334.32" y2="596.5" stroke="#141414" stroke-width="1.5" />
<line x1="384.78" y1="603.7" x2="384.78" y2="596.5" stroke="#141414" stroke-width="1.5" />
<line x1="435.23" y1="603.7" x2="435.23" y2="596.5" stroke="#141414" stroke-width="1.5" />
<line x1="485.69" y1="603.7" x2="485.69" y2="596.5" stroke="#141414" stroke-width="1.5" />
<line x1="536.14" y1="603.7" x2="536.14" y2="596.5" stroke="#141414" stroke-width="1.5" />
<line x1="586.6" y1="603.7" x2="586.6" y2="596.5" stroke="#141414" stroke-width="1.5" />
<line x1="308.2" y1="565.3" x2="319.7" y2="578.7" stroke="#141414" stroke-width="1.4" />
<path d="M137.1 689 H132.5 V815.6 H586.6" fill="none" stroke="#141414" stroke-width="1.5" stroke-linejoin="miter"/>
<line x1="132.5" y1="689" x2="137.1" y2="689" stroke="#141414" stroke-width="1.5" />
<line x1="132.5" y1="731.3" x2="137.1" y2="731.3" stroke="#141414" stroke-width="1.5" />
<line x1="132.5" y1="773.8" x2="137.1" y2="773.8" stroke="#141414" stroke-width="1.5" />
<line x1="182.96" y1="815.6" x2="182.96" y2="809.1" stroke="#141414" stroke-width="1.5" />
<line x1="233.41" y1="815.6" x2="233.41" y2="809.1" stroke="#141414" stroke-width="1.5" />
<line x1="283.87" y1="815.6" x2="283.87" y2="809.1" stroke="#141414" stroke-width="1.5" />
<line x1="334.32" y1="815.6" x2="334.32" y2="809.1" stroke="#141414" stroke-width="1.5" />
<line x1="384.78" y1="815.6" x2="384.78" y2="809.1" stroke="#141414" stroke-width="1.5" />
<line x1="435.23" y1="815.6" x2="435.23" y2="809.1" stroke="#141414" stroke-width="1.5" />
<line x1="485.69" y1="815.6" x2="485.69" y2="809.1" stroke="#141414" stroke-width="1.5" />
<line x1="536.14" y1="815.6" x2="536.14" y2="809.1" stroke="#141414" stroke-width="1.5" />
<line x1="586.6" y1="815.6" x2="586.6" y2="809.1" stroke="#141414" stroke-width="1.5" />
<line x1="133.8" y1="792.3" x2="585.1" y2="792.3" stroke="#8a8a8a" stroke-width="2.8" stroke-dasharray="12.0 6.36"/>
<path d="M133.2 812.9 L157.73 812.9 L157.73 812.9 L182.96 812.9 L182.96 813.3 L208.18 813.3 L208.18 811.8 L233.41 811.8 L233.41 811.8 L258.64 811.8 L258.64 811.8 L283.87 811.8 L283.87 810.2 L309.09 810.2 L309.09 801.1 L334.32 801.1 L334.32 768.2 L359.55 768.2 L359.55 740.8 L384.78 740.8 L384.78 752.6 L410.01 752.6 L410.01 746.9 L435.23 746.9 L435.23 735.4 L460.46 735.4 L460.46 733.9 L485.69 733.9 L485.69 741.9 L510.92 741.9 L510.92 730.5 L536.14 730.5 L536.14 730 L561.37 730 L561.37 727.4 L586.6 727.4" fill="none" stroke="#6a6a6a" stroke-width="1.5" stroke-linejoin="round" stroke-linecap="butt" stroke-linejoin="miter"/>
<text x="121.1" y="37.8" text-anchor="end" font-size="21" letter-spacing="0.8" >400</text>
<text x="121.1" y="72.6" text-anchor="end" font-size="21" letter-spacing="0.8" >200</text>
<text x="121.1" y="104.5" text-anchor="end" font-size="21" letter-spacing="0.8" >0</text>
<text x="121.1" y="136.4" text-anchor="end" font-size="21" letter-spacing="0.8" >−200</text>
<text x="121.1" y="165.6" text-anchor="end" font-size="21" letter-spacing="0.8" >−400</text>
<text x="134.9" y="188" text-anchor="middle" font-size="21" letter-spacing="0.8" >0</text>
<text x="179.21" y="188" text-anchor="middle" font-size="21" letter-spacing="0.8" >20</text>
<text x="224.62" y="188" text-anchor="middle" font-size="21" letter-spacing="0.8" >40</text>
<text x="270.03" y="188" text-anchor="middle" font-size="21" letter-spacing="0.8" >60</text>
<text x="315.44" y="188" text-anchor="middle" font-size="21" letter-spacing="0.8" >80</text>
<text x="360.85" y="188" text-anchor="middle" font-size="21" letter-spacing="0.8" >100</text>
<text x="406.26" y="188" text-anchor="middle" font-size="21" letter-spacing="0.8" >120</text>
<text x="451.67" y="188" text-anchor="middle" font-size="21" letter-spacing="0.8" >140</text>
<text x="497.08" y="188" text-anchor="middle" font-size="21" letter-spacing="0.8" >160</text>
<text x="541.89" y="188" text-anchor="middle" font-size="21" letter-spacing="0.8" >180</text>
<text x="586.4" y="188" text-anchor="middle" font-size="21" letter-spacing="0.8" >200</text>
<text text-anchor="middle"><tspan x="323.4" y="215.8" font-size="21">时</tspan><tspan x="349.82" y="215.8" font-size="21">间 </tspan><tspan x="368.82" y="216.3" font-size="21">/ </tspan><tspan x="388.3" y="216.3" font-size="21">ms</tspan></text>
<text text-anchor="middle"><tspan x="315.23" y="251.2" font-size="21">(a) </tspan><tspan x="347.8" y="250.7" font-size="21">末</tspan><tspan x="370.7" y="250.7" font-size="21">端</tspan><tspan x="393.4" y="250.7" font-size="21">电</tspan><tspan x="416.1" y="250.7" font-size="21">压</tspan></text>
<text transform="translate(63.1 0) rotate(-90)" text-anchor="middle"><tspan x="-150" y="-1.3" font-size="21">末</tspan><tspan x="-127.2" y="-1.3" font-size="21">端</tspan><tspan x="-104.4" y="-1.3" font-size="21">电</tspan><tspan x="-78.97" y="-1.3" font-size="21">压 </tspan><tspan x="-58.85" y="0" font-size="22">/ </tspan><tspan x="-44.4" y="0" font-size="22">V</tspan></text>
<text x="121.1" y="272.7" text-anchor="end" font-size="21" letter-spacing="0.8" >50</text>
<text x="121.1" y="332.7" text-anchor="end" font-size="21" letter-spacing="0.8" >0</text>
<text x="121.1" y="393.2" text-anchor="end" font-size="21" letter-spacing="0.8" >−50</text>
<text x="135.2" y="411" text-anchor="middle" font-size="21" letter-spacing="0.8" >0</text>
<text x="184.26" y="411" text-anchor="middle" font-size="21" letter-spacing="0.8" >20</text>
<text x="234.71" y="411" text-anchor="middle" font-size="21" letter-spacing="0.8" >40</text>
<text x="285.17" y="411" text-anchor="middle" font-size="21" letter-spacing="0.8" >60</text>
<text x="335.62" y="411" text-anchor="middle" font-size="21" letter-spacing="0.8" >80</text>
<text x="386.08" y="411" text-anchor="middle" font-size="21" letter-spacing="0.8" >100</text>
<text x="436.53" y="411" text-anchor="middle" font-size="21" letter-spacing="0.8" >120</text>
<text x="486.99" y="411" text-anchor="middle" font-size="21" letter-spacing="0.8" >140</text>
<text x="537.14" y="411" text-anchor="middle" font-size="21" letter-spacing="0.8" >160</text>
<text x="587.3" y="411" text-anchor="middle" font-size="21" letter-spacing="0.8" >180</text>
<text text-anchor="middle"><tspan x="323.4" y="436.6" font-size="21">时</tspan><tspan x="349.82" y="436.6" font-size="21">间 </tspan><tspan x="368.82" y="437.1" font-size="21">/ </tspan><tspan x="388.3" y="437.1" font-size="21">ms</tspan></text>
<text text-anchor="middle"><tspan x="315.23" y="463" font-size="21">(b) </tspan><tspan x="348.3" y="462.5" font-size="21">识</tspan><tspan x="370.9" y="462.5" font-size="21">别</tspan><tspan x="393.5" y="462.5" font-size="21">波</tspan><tspan x="416.1" y="462.5" font-size="21">形</tspan></text>
<text transform="translate(74.2 0) rotate(-90)" text-anchor="middle"><tspan x="-374.4" y="-1.3" font-size="21">识</tspan><tspan x="-352.2" y="-1.3" font-size="21">别</tspan><tspan x="-330" y="-1.3" font-size="21">波</tspan><tspan x="-305.18" y="-1.3" font-size="21">形 </tspan><tspan x="-285.95" y="0" font-size="22">/ </tspan><tspan x="-271.7" y="0" font-size="22">V</tspan></text>
<text text-anchor="middle"><tspan x="259.9" y="299.3" font-size="21">弱</tspan><tspan x="282.4" y="299.3" font-size="21">故</tspan><tspan x="304.9" y="299.3" font-size="21">障</tspan></text>
<text x="121.1" y="479" text-anchor="end" font-size="21" letter-spacing="0.8" >15</text>
<text x="121.1" y="523.5" text-anchor="end" font-size="21" letter-spacing="0.8" >10</text>
<text x="121.1" y="567.1" text-anchor="end" font-size="21" letter-spacing="0.8" >5</text>
<text x="115.3" y="631.8" text-anchor="middle" font-size="21" letter-spacing="0.8" >0</text>
<text x="184.26" y="631.8" text-anchor="middle" font-size="21" letter-spacing="0.8" >20</text>
<text x="234.71" y="631.8" text-anchor="middle" font-size="21" letter-spacing="0.8" >40</text>
<text x="285.17" y="631.8" text-anchor="middle" font-size="21" letter-spacing="0.8" >60</text>
<text x="335.62" y="631.8" text-anchor="middle" font-size="21" letter-spacing="0.8" >80</text>
<text x="386.08" y="631.8" text-anchor="middle" font-size="21" letter-spacing="0.8" >100</text>
<text x="436.53" y="631.8" text-anchor="middle" font-size="21" letter-spacing="0.8" >120</text>
<text x="486.99" y="631.8" text-anchor="middle" font-size="21" letter-spacing="0.8" >140</text>
<text x="537.14" y="631.8" text-anchor="middle" font-size="21" letter-spacing="0.8" >160</text>
<text x="587.3" y="631.8" text-anchor="middle" font-size="21" letter-spacing="0.8" >180</text>
<text text-anchor="middle"><tspan x="323.4" y="657.7" font-size="21">时</tspan><tspan x="349.82" y="657.7" font-size="21">间 </tspan><tspan x="368.82" y="658.2" font-size="21">/ </tspan><tspan x="388.3" y="658.2" font-size="21">ms</tspan></text>
<text text-anchor="middle"><tspan x="311.93" y="684.3" font-size="21">(c) </tspan><tspan x="341.1" y="684.3" font-size="24">Δ</tspan><tspan x="357" y="684.3" font-size="22" font-style="italic">U</tspan><tspan x="376.5" y="683.8" font-size="21">变</tspan><tspan x="399.5" y="683.8" font-size="21">化</tspan><tspan x="422.2" y="683.8" font-size="21">率</tspan></text>
<text transform="translate(83.8 0) rotate(-90)" text-anchor="middle"><tspan x="-595.7" y="0" font-size="24">Δ</tspan><tspan x="-579.8" y="0" font-size="22" font-style="italic">U</tspan><tspan x="-560.8" y="-1.3" font-size="21">变</tspan><tspan x="-538.5" y="-1.3" font-size="21">化</tspan><tspan x="-514.77" y="-1.3" font-size="21">率 </tspan><tspan x="-493.95" y="0" font-size="22">/ </tspan><tspan x="-480.4" y="0" font-size="22">V</tspan></text>
<text text-anchor="middle"><tspan x="288.2" y="559.3" font-size="21">启</tspan><tspan x="311.1" y="559.3" font-size="21">动</tspan></text>
<text x="121.1" y="695.5" text-anchor="end" font-size="21" letter-spacing="0.8" >30</text>
<text x="121.1" y="738.5" text-anchor="end" font-size="21" letter-spacing="0.8" >20</text>
<text x="121.1" y="779.7" text-anchor="end" font-size="21" letter-spacing="0.8" >10</text>
<text x="115.3" y="843.9" text-anchor="middle" font-size="21" letter-spacing="0.8" >0</text>
<text x="184.26" y="843.9" text-anchor="middle" font-size="21" letter-spacing="0.8" >20</text>
<text x="234.71" y="843.9" text-anchor="middle" font-size="21" letter-spacing="0.8" >40</text>
<text x="285.17" y="843.9" text-anchor="middle" font-size="21" letter-spacing="0.8" >60</text>
<text x="335.62" y="843.9" text-anchor="middle" font-size="21" letter-spacing="0.8" >80</text>
<text x="386.08" y="843.9" text-anchor="middle" font-size="21" letter-spacing="0.8" >100</text>
<text x="436.53" y="843.9" text-anchor="middle" font-size="21" letter-spacing="0.8" >120</text>
<text x="486.99" y="843.9" text-anchor="middle" font-size="21" letter-spacing="0.8" >140</text>
<text x="537.14" y="843.9" text-anchor="middle" font-size="21" letter-spacing="0.8" >160</text>
<text x="587.3" y="843.9" text-anchor="middle" font-size="21" letter-spacing="0.8" >180</text>
<text text-anchor="middle"><tspan x="323.4" y="875.9" font-size="21">时</tspan><tspan x="349.82" y="875.9" font-size="21">间 </tspan><tspan x="368.82" y="876.4" font-size="21">/ </tspan><tspan x="388.3" y="876.4" font-size="21">ms</tspan></text>
<text text-anchor="middle"><tspan x="311.52" y="905.3" font-size="21">(d) </tspan><tspan x="341.1" y="905.3" font-size="24">Δ</tspan><tspan x="357" y="905.3" font-size="22" font-style="italic">U</tspan><tspan x="376.7" y="904.8" font-size="21">有</tspan><tspan x="399.2" y="904.8" font-size="21">效</tspan><tspan x="421.3" y="904.8" font-size="21">值</tspan></text>
<text transform="translate(81.7 0) rotate(-90)" text-anchor="middle"><tspan x="-808.3" y="0" font-size="24">Δ</tspan><tspan x="-793.2" y="0" font-size="22" font-style="italic">U</tspan><tspan x="-774.6" y="-1.3" font-size="21">有</tspan><tspan x="-752.2" y="-1.3" font-size="21">效</tspan><tspan x="-727.67" y="-1.3" font-size="21">值 </tspan><tspan x="-708.05" y="0" font-size="22">/ </tspan><tspan x="-695.4" y="0" font-size="22">V</tspan></text>
</svg>
</body>
</html>
